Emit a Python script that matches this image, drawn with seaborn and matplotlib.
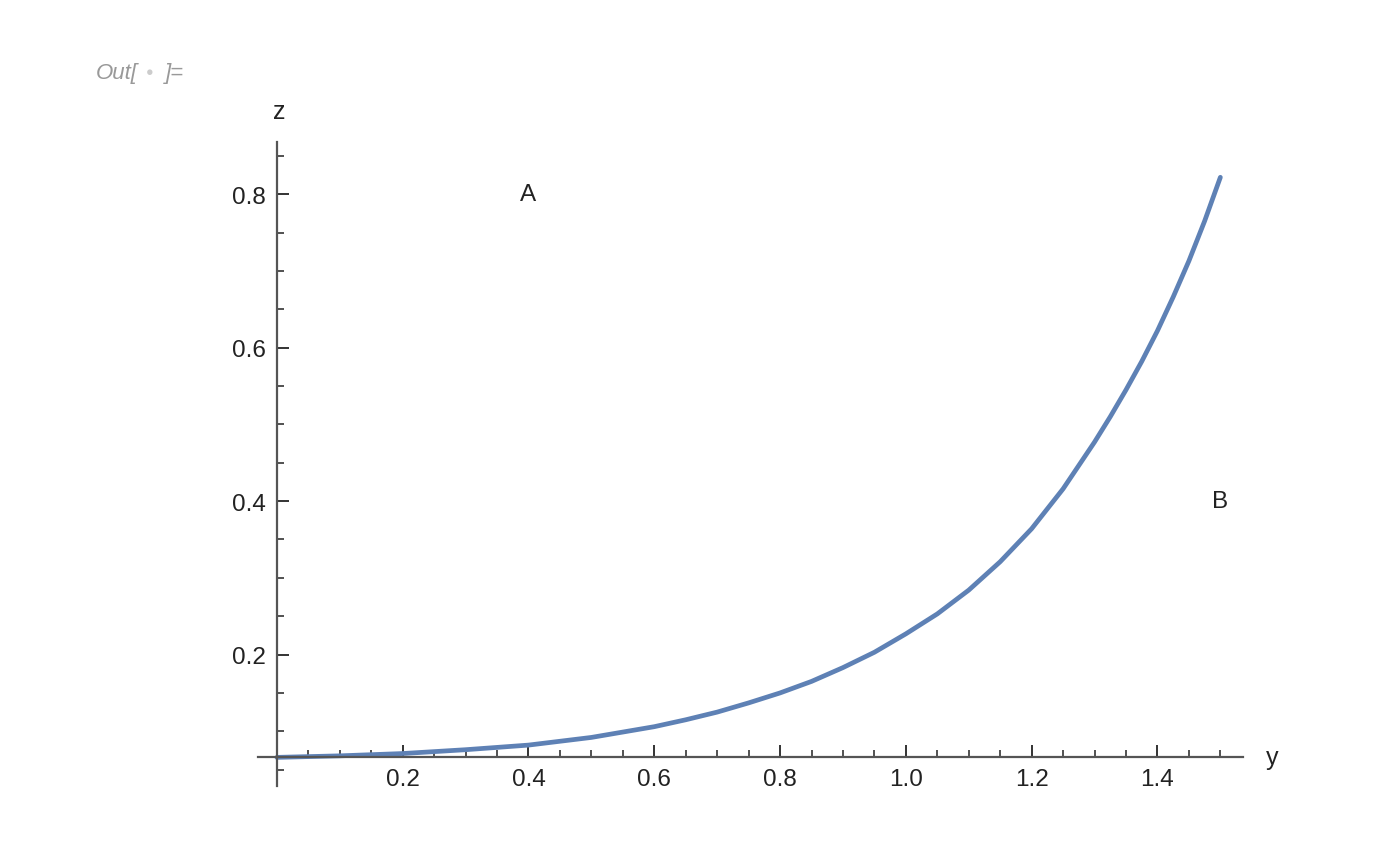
import numpy as np
import pandas as pd
import matplotlib
matplotlib.use("Agg")
import matplotlib.pyplot as plt
import seaborn as sns
from matplotlib.ticker import FixedLocator, MultipleLocator

# values
y_vals = [0.0, 0.1, 0.2, 0.3, 0.4, 0.5, 0.55, 0.6, 0.65, 0.7, 0.75, 0.8, 0.85, 0.9, 0.95, 1.0,
          1.05, 1.1, 1.15, 1.2, 1.25, 1.3, 1.325, 1.35, 1.375, 1.4, 1.425, 1.45, 1.475, 1.5]
z_vals = [0.066, 0.068, 0.071, 0.076, 0.082, 0.092, 0.099, 0.106, 0.115, 0.125, 0.137, 0.150,
          0.165, 0.183, 0.203, 0.227, 0.253, 0.284, 0.321, 0.364, 0.416, 0.477, 0.510, 0.545,
          0.582, 0.622, 0.666, 0.713, 0.765, 0.822]

x_major = [0.2, 0.4, 0.6, 0.8, 1.0, 1.2, 1.4]
z_major = [0.2, 0.4, 0.6, 0.8]
region_labels = ["A", "B"]
region_pos = [(0.4, 0.8), (1.5, 0.4)]

df = pd.DataFrame({"y": y_vals, "z": z_vals})

sns.set_style("white")
plt.rcParams["font.family"] = ["Liberation Sans", "DejaVu Sans"]

fig = plt.figure(figsize=(13.81, 8.62), dpi=100)
ax = fig.add_axes([258 / 1381, 1 - 787 / 862, (1243 - 258) / 1381, (787 - 143) / 862])

sns.lineplot(data=df, x="y", y="z", ax=ax, color="#5E81B5", linewidth=3.4)

ax.set_xlim(-0.030, 1.536)
ax.set_ylim(0.0287, 0.868)

# axes crossing like Mathematica
for s in ["top", "right"]:
    ax.spines[s].set_visible(False)
ax.spines["left"].set_position(("data", 0))
ax.spines["bottom"].set_position(("data", 0.066))
for s in ["left", "bottom"]:
    ax.spines[s].set_color("#555555")
    ax.spines[s].set_linewidth(1.6)

ax.xaxis.set_major_locator(FixedLocator(x_major))
ax.yaxis.set_major_locator(FixedLocator(z_major))
ax.xaxis.set_minor_locator(MultipleLocator(0.05))
ax.yaxis.set_minor_locator(MultipleLocator(0.05))
ax.set_xticklabels([f"{v:.1f}" for v in x_major])
ax.set_yticklabels([f"{v:.1f}" for v in z_major])
ax.tick_params(which="both", bottom=True, left=True, top=False, right=False)
ax.tick_params(which="major", direction="in", length=8.5, width=1.4, color="#333333",
               labelsize=17.5, labelcolor="#222222", pad=8)
ax.tick_params(which="minor", direction="in", length=5, width=1.2, color="#333333")
ax.set_xlabel("")
ax.set_ylabel("")

ax.text(0.003, 0.908, "z", fontsize=18, color="#222222", ha="center", va="center", clip_on=False)
ax.text(1.582, 0.067, "y", fontsize=18, color="#222222", ha="center", va="center", clip_on=False)

for lab, (px, pz) in zip(region_labels, region_pos):
    ax.text(px, pz, lab, fontsize=17.5, color="#222222", ha="center", va="center")

fig.text(96 / 1381, 1 - 73 / 862, "Out[", fontsize=16, color="#999999", style="italic",
         ha="left", va="center")
fig.text(150 / 1381, 1 - 73 / 862, "\u25cf", fontsize=9, color="#cccccc", ha="center", va="center")
fig.text(165 / 1381, 1 - 73 / 862, "]=", fontsize=16, color="#999999", style="italic",
         ha="left", va="center")

fig.savefig("out.png", dpi=100, facecolor="white")
